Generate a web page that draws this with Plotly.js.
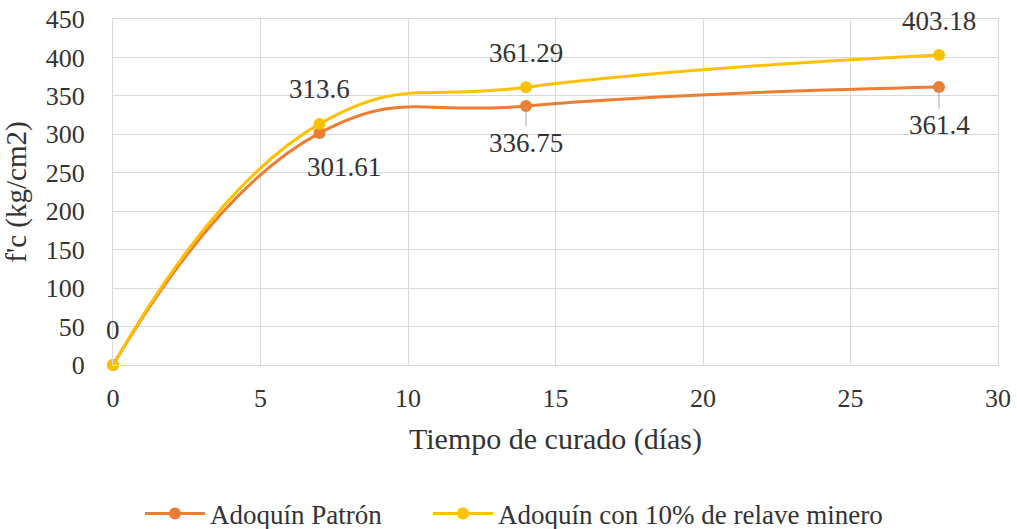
<!DOCTYPE html>
<html>
<head>
<meta charset="utf-8">
<script src="https://cdn.plot.ly/plotly-3.0.1.min.js"></script>
<style>html,body{margin:0;padding:0;background:#fff;}#chart{width:1017px;height:529px;}</style>
</head>
<body>
<div id="chart"></div>
<script>
const days = [0, 7, 14, 28];
const patron = [0, 301.61, 336.75, 361.4];
const relave = [0, 313.6, 361.29, 403.18];
const seriesNames = ["Adoquín Patrón", "Adoquín con 10% de relave minero"];
const xTicks = [0, 5, 10, 15, 20, 25, 30];
const yTicks = [0, 50, 100, 150, 200, 250, 300, 350, 400, 450];

const FONT = "'Liberation Serif', 'Times New Roman', 'DejaVu Serif', serif";
const TXT = "#333333";
const ORANGE = "#ED7D31";
const YELLOW = "#FFC000";

const traces = [
  {x: days, y: patron, name: seriesNames[0], type: "scatter", mode: "lines+markers", cliponaxis: false,
   legend: "legend",
   line: {color: ORANGE, width: 3, shape: "spline", smoothing: 1.3},
   marker: {color: ORANGE, size: 12}},
  {x: days, y: relave, name: seriesNames[1], type: "scatter", mode: "lines+markers", cliponaxis: false,
   legend: "legend2",
   line: {color: YELLOW, width: 3, shape: "spline", smoothing: 1.3},
   marker: {color: YELLOW, size: 12}}
];

// data labels
const annotations = [];
const LBL = {family: FONT, size: 27, color: TXT};
const relOff = [[0, -35], [0, -35], [0, -34], [0, -34]];
const patOff = [null, [24, 34], [0, 37], [0, 38]];
relave.forEach((v, i) => {
  annotations.push({x: days[i], y: v, xref: "x", yref: "y", text: String(v), showarrow: false,
    xshift: relOff[i][0], yshift: -relOff[i][1], font: LBL});
});
patron.forEach((v, i) => {
  if (!patOff[i]) return;
  const lead = i >= 2;
  if (lead) {
    annotations.push({x: days[i], y: v, xref: "x", yref: "y", text: String(v), showarrow: true,
      ax: patOff[i][0], ay: patOff[i][1], arrowhead: 0, arrowwidth: 1, arrowcolor: "#a6a6a6",
      standoff: 0, font: LBL});
  } else {
    annotations.push({x: days[i], y: v, xref: "x", yref: "y", text: String(v), showarrow: false,
      xshift: patOff[i][0], yshift: -patOff[i][1], font: LBL});
  }
});

const legBase = {orientation: "h", xanchor: "left", yanchor: "middle", xref: "container", yref: "container",
  y: 15/529, font: {family: FONT, size: 27, color: TXT}, itemwidth: 60, bgcolor: "rgba(0,0,0,0)"};

const layout = {
  width: 1017, height: 529,
  margin: {l: 113, r: 19, t: 19, b: 164},
  paper_bgcolor: "#ffffff", plot_bgcolor: "#ffffff",
  font: {family: FONT, color: TXT, size: 26},
  showlegend: true,
  legend: Object.assign({}, legBase, {x: 140/1017}),
  legend2: Object.assign({}, legBase, {x: 428/1017}),
  xaxis: {range: [0, 30], tickvals: xTicks, ticktext: xTicks.map(String), showgrid: true, gridcolor: "#d9d9d9",
    gridwidth: 1, zeroline: false, showline: true, linecolor: "#d9d9d9", mirror: true,
    ticks: "", ticklabelstandoff: 10, tickfont: {family: FONT, size: 26, color: TXT},
    title: {text: "Tiempo de curado (días)", font: {family: FONT, size: 30, color: TXT}, standoff: 15}},
  yaxis: {range: [0, 450], tickvals: yTicks, ticktext: yTicks.map(String), showgrid: true, gridcolor: "#d9d9d9",
    gridwidth: 1, zeroline: false, showline: true, linecolor: "#d9d9d9", mirror: true,
    ticks: "", ticklabelstandoff: 22, tickfont: {family: FONT, size: 26, color: TXT},
    title: {text: "f'c (kg/cm2)", font: {family: FONT, size: 29, color: TXT}, standoff: 12}},
  annotations: annotations
};

Plotly.newPlot("chart", traces, layout, {displayModeBar: false, staticPlot: true});
</script>
</body>
</html>
